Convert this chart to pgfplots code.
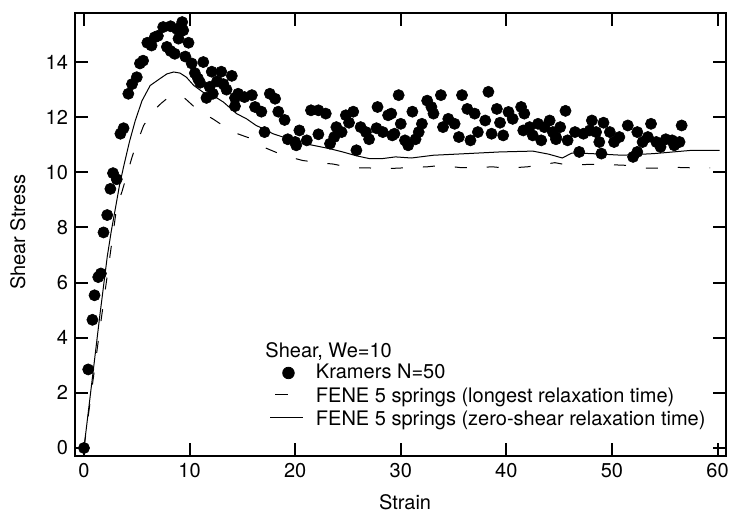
\documentclass[border=0pt]{standalone}
\usepackage{fontspec}
\setmainfont{TeX Gyre Heros}
\usepackage{pgfplots}
\pgfplotsset{compat=1.18}
\begin{document}
\fontsize{10}{12}\selectfont
\begin{tikzpicture}
\begin{axis}[name=ax, scale only axis, width=325.5pt, height=221.5pt,
  xmin=-0.85, xmax=60.8, ymin=-0.29, ymax=15.78,
  xtick={0,10,...,60}, ytick={0,2,...,14},
  tick align=inside, major tick length=6.5pt,
  major tick style={black, line width=1pt},
  axis line style={line width=1.2pt},
  /pgf/number format/assume math mode=true,
  tick label style={font=\fontsize{10}{12}\selectfont},
  label style={font=\fontsize{10}{12}\selectfont},
  xlabel={Strain}, ylabel={Shear Stress},
  xlabel style={at={(axis description cs:0.507,0)}, anchor=base, yshift=-27pt},
  ylabel style={at={(axis description cs:-0.0768,0.505)}, anchor=base},
  legend style={draw=none, fill=none, inner sep=0pt, outer sep=0pt,
    at={(axis description cs:0.2995,0.2077)}, anchor=north west,
    row sep=1.67pt, column sep=6pt,
    nodes={inner sep=0pt, anchor=base west, text height=7.5pt, text depth=2.5pt,
      font=\fontsize{10}{12}\selectfont}},
]
\addplot[only marks, mark=*, mark size=2.8pt, mark options={draw=black, fill=black, line width=0.3pt},
  legend image code/.code={\fill[black] (9pt,3pt) circle[radius=2.9pt];}]
coordinates {
(0,0) (0.4,2.85) (0.8,4.65) (1.0,5.54) (1.35,6.2) (1.6,6.33) (1.85,7.82) (2.2,8.45)
(2.5,9.4) (2.75,9.97) (3.1,9.75) (3.45,11.4) (3.75,11.6) (4.2,12.85) (4.55,13.2)
(5.0,13.45) (5.3,13.95) (5.6,14.05) (6.0,14.7) (6.4,14.6) (6.7,14.9) (7.0,14.95)
(7.5,15.27) (7.85,14.55) (8.2,15.3) (8.2,14.4) (8.6,14.3) (8.8,15.2) (8.95,14.85)
(9.3,15.45) (9.4,15.15) (9.6,14.2) (9.9,14.7) (10.2,13.95) (10.5,13.6) (10.8,13.4)
(11.0,13.25) (11.3,14.0) (11.6,12.7) (11.9,13.1) (12.1,13.65) (12.2,12.85) (12.6,13.3)
(13.0,13.65) (13.2,13.2) (13.5,13.0) (14.0,13.5) (14.3,12.7) (14.3,12.4) (14.6,12.85)
(15.2,12.73) (15.9,12.8) (16.2,12.37) (16.8,12.2) (17.1,11.46) (17.6,12.85) (18.1,12.67)
(18.4,12.2) (19.0,11.9) (19.3,11.2) (20.0,11.1) (20.1,10.98) (20.4,11.52) (21.1,11.16)
(21.5,12.25) (22.2,12.25) (22.2,11.38) (22.9,12.13) (23.3,11.04) (23.7,11.28) (23.9,11.64)
(24.4,11.46) (24.8,12.07) (25.5,12.2) (25.1,11.8) (25.8,10.8) (26.2,11.64) (26.7,11.46)
(27.0,11.2) (27.7,11.6) (27.8,12.37) (28.3,11.46) (28.8,12.07) (29.2,11.34) (29.8,12.8)
(29.1,12.13) (30.0,11.76) (29.4,11.4) (30.4,11.16) (30.7,10.98) (31.1,12.2) (31.4,11.2)
(31.7,11.46) (32.0,11.76) (32.5,12.6) (32.9,12.37) (33.1,12.13) (33.8,12.8) (34.0,11.64)
(34.5,11.94) (35.1,11.76) (35.5,11.28) (35.8,12.8) (36.3,12.3) (36.6,11.16) (37.0,12.13)
(37.3,11.46) (38.0,11.88) (38.3,12.92) (38.6,11.4) (39.1,12.3) (39.4,11.8) (39.7,11.34)
(40.2,12.19) (40.6,11.94) (41.4,12.37) (41.7,12.13) (41.6,11.52) (42.2,11.64) (42.5,11.34)
(43.0,11.76) (43.3,11.16) (43.6,11.64) (44.1,11.88) (44.4,11.46) (44.7,11.2) (45.1,11.64)
(44.7,11.28) (45.6,12.23) (45.8,11.16) (46.5,11.46) (46.9,10.74) (47.3,11.4) (47.9,11.52)
(48.1,11.88) (48.5,11.46) (48.8,11.1) (49.0,10.68) (49.2,11.8) (49.8,11.46) (50.2,11.1)
(50.7,11.28) (51.5,11.7) (52.0,10.56) (52.4,10.74) (52.4,11.46) (52.9,11.1) (53.7,11.76)
(53.4,11.28) (54.2,11.1) (54.6,10.92) (55.1,11.2) (55.7,11.16) (55.9,10.98) (56.4,11.1)
(56.6,11.7)
};
\addplot[black, line width=0.5pt, dash pattern=on 6pt off 10pt,
  legend image code/.code={\draw[black, line width=0.5pt, solid] (2.5pt,4pt) -- (9pt,4pt);}]
coordinates {
(0,0) (1.5,4.3) (3.1,8.74) (3.6,9.3) (4.55,10.55) (4.86,10.9) (5.65,11.7) (6.5,12.2)
(7.3,12.5) (8.0,12.72) (8.8,12.8) (9.6,12.67) (10.8,12.25) (12.2,11.94) (14.1,11.46)
(16,11.2) (17.1,10.9) (18.85,10.62) (20.7,10.43) (22.5,10.34) (23.6,10.3) (25.4,10.16)
(27,10.16) (28.4,10.13) (29.6,10.15) (32.5,10.2) (33.8,10.25) (35.7,10.17) (37,10.17)
(38.7,10.2) (40,10.15) (42,10.2) (44.6,10.35) (46,10.25) (47.8,10.29) (49,10.29)
(51.6,10.25) (53.2,10.15) (54.6,10.15) (56,10.18) (57.9,10.16) (59.3,10.16)
};
\addplot[black, line width=0.5pt,
  legend image code/.code={\draw[black, line width=0.5pt] (0pt,4pt) -- (16.5pt,4pt);}]
coordinates {
(0,0) (0.77,2.46) (1.5,4.8) (2.2,6.93) (2.6,7.9) (2.97,8.68) (3.35,9.5) (3.75,10.2)
(4.3,11.1) (4.86,11.88) (5.5,12.6) (6.27,13.15) (7.2,13.4) (7.85,13.57) (8.5,13.64)
(9.1,13.6) (9.7,13.45) (10.4,13.15) (11.3,12.9) (12.2,12.79) (13.2,12.55) (14.45,12.13)
(15.4,11.94) (16.3,11.7) (17.0,11.58) (17.9,11.4) (18.85,11.28) (20.1,11.1) (21.7,10.98)
(23.25,10.86) (24.5,10.74) (25.8,10.6) (27.0,10.5) (28.3,10.5) (29.5,10.56) (31,10.52)
(33.1,10.62) (36.3,10.68) (39.4,10.74) (42.5,10.77) (44.0,10.66) (45.3,10.52) (46.2,10.7)
(48,10.68) (51,10.62) (54,10.68) (57.6,10.8) (60.2,10.8)
};
\legend{Kramers N=50, FENE 5 springs (longest relaxation time), FENE 5 springs (zero-shear relaxation time)}
\node[anchor=base west, inner sep=0pt, font=\fontsize{10}{12}\selectfont] at (axis description cs:0.2919,0.2219) {Shear, We=10};
\end{axis}
\pgfresetboundingbox
\path ([shift={(-37.5pt,-29pt)}]ax.south west) rectangle ([shift={(2.5pt,6.5pt)}]ax.north east);
\end{tikzpicture}
\end{document}
